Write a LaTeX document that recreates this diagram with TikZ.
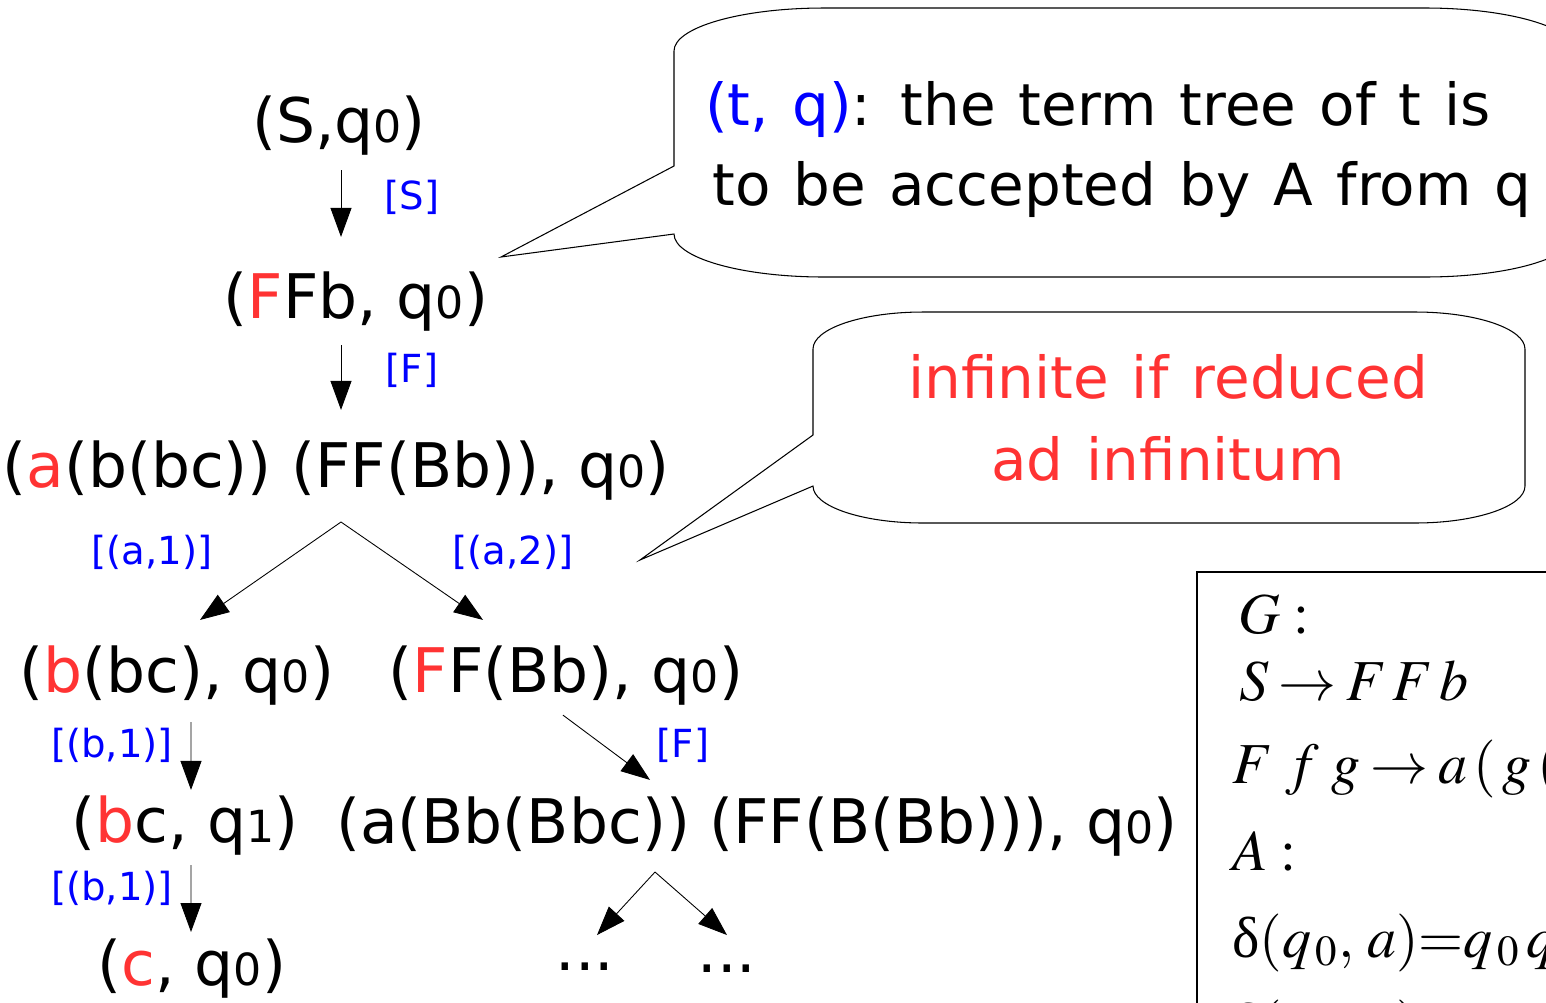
\documentclass[tikz,border=0pt]{standalone}
\usepackage{mathptmx}
\usepackage[no-math]{fontspec}
\setmainfont{DejaVu Sans}
\newfontfamily\greekup{Liberation Serif}
\usepackage{graphicx}
\usetikzlibrary{arrows.meta,positioning}

\definecolor{redex}{RGB}{255,51,51}
\definecolor{rulecol}{RGB}{0,0,255}
\newcommand{\rdx}[1]{\textcolor{redex}{#1}}
\newcommand{\st}[1]{q\scalebox{0.72}{#1}}
\newcommand{\dlt}{\mbox{\greekup δ}}
\newcommand{\widesp}{\spaceskip=0.4em plus 0.1em\relax}
\newcommand{\rto}{\mkern3mu{\rightarrow}\mkern3mu}

\begin{document}
\begin{tikzpicture}[
    x=0.02cm, y=0.02cm,
    term/.style={anchor=base, inner sep=0pt, font=\fontsize{35}{42}\selectfont},
    rname/.style={inner sep=0pt, text=rulecol, font=\fontsize{22}{26}\selectfont},
    note/.style={inner sep=0pt, font=\fontsize{33}{40}\selectfont\widesp},
    eqn/.style={anchor=base west, inner sep=0pt, font=\fontsize{33}{40}\selectfont},
    arr/.style={-{Triangle[length=0.58cm,width=0.42cm]}, line width=0.5pt},
    bubble/.style={draw, fill=white, line width=0.6pt}
  ]
  \useasboundingbox (0,0) rectangle (1546,-1002);
  \clip (0,0) rectangle (1546,-1002);

  % speech bubbles
  \draw[bubble] (674,-166) -- (674,-51)
    arc[start angle=180, end angle=90, x radius=3cm, y radius=0.86cm] -- (1425,-8)
    arc[start angle=90, end angle=0, x radius=3cm, y radius=0.86cm] -- (1575,-234)
    arc[start angle=0, end angle=-90, x radius=3cm, y radius=0.86cm] -- (824,-277)
    arc[start angle=270, end angle=180, x radius=3cm, y radius=0.86cm] -- (674,-234)
    -- (501,-257) -- cycle;
  \draw[bubble] (813,-435) -- (813,-349)
    arc[start angle=180, end angle=90, x radius=2.2cm, y radius=0.74cm] -- (1415,-312)
    arc[start angle=90, end angle=0, x radius=2.2cm, y radius=0.74cm] -- (1525,-486)
    arc[start angle=0, end angle=-90, x radius=2.2cm, y radius=0.74cm] -- (923,-523)
    arc[start angle=270, end angle=180, x radius=2.2cm, y radius=0.74cm] -- (813,-486)
    -- (640,-560) -- cycle;
  \node[note, anchor=base west] (tq1) at (705,-125) {\textcolor{rulecol}{(t, q)}: the term tree of t is};
  \node[note, anchor=base west] (tq2) at (712,-205) {to be accepted by A from q};
  \node[note, anchor=base, text=redex] (inf1) at (1168,-398) {infinite if reduced};
  \node[note, anchor=base, text=redex] (inf2) at (1168,-480) {ad infinitum};

  % the grammar and the automaton
  \draw[line width=0.6pt] (1197,-572) rectangle (1570,-1020);
  \node[eqn] (g0) at (1238,-633) {$G:$};
  \node[eqn] (g1) at (1239,-700) {$S\rto F\,F\,b$};
  \node[eqn] (g2) at (1232,-783) {$F\;f\;g\rto a\,(\,g\,($};
  \node[eqn] (a0) at (1232,-870) {$A:$};
  \node[eqn] (a1) at (1232,-957) {$\dlt(q_{\,0},\,a){=}q_{\,0}\,q_{\,0}$};
  \node[eqn] (a2) at (1232,-1043) {$\dlt(q_{\,0},\,b){=}q_{\,1}$};

  % reduction tree
  \node[term] (s0) at (339,-142) {(S,\st{0})};
  \node[term] (s1) at (356,-318) {(\rdx{F}Fb, \st{0})};
  \node[term] (s2) at (336,-487) {(\rdx{a}(b(bc)) (FF(Bb)), \st{0})};
  \node[term] (s3l) at (177,-692) {(\rdx{b}(bc), \st{0})};
  \node[term] (s3r) at (566,-692) {(\rdx{F}F(Bb), \st{0})};
  \node[term] (s4l) at (185,-842) {(\rdx{b}c, \st{1})};
  \node[term] (s4r) at (757,-843) {(a(Bb(Bbc)) (FF(B(Bb))), \st{0})};
  \node[term] (s5l) at (192,-985) {(\rdx{c}, \st{0})};
  \node[term] (d1) at (585,-970) {...};
  \node[term] (d2) at (727,-972) {...};

  \node[rname] (r0) at (412,-197) {[S]};
  \node[rname] (r1) at (412,-370) {[F]};
  \node[rname] (r2) at (152,-552) {[(a,1)]};
  \node[rname] (r3) at (513,-552) {[(a,2)]};
  \node[rname] (r4) at (112,-745) {[(b,1)]};
  \node[rname] (r5) at (112,-888) {[(b,1)]};
  \node[rname] (r6) at (683,-745) {[F]};

  \coordinate (fk1) at (341,-522);
  \coordinate (fk2) at (655,-872);
  \draw[arr, shorten <=0.3cm, shorten >=0.68cm] ([xshift=0.04cm]s0.south) -- ([xshift=0.04cm]s0.south |- s1.north);
  \draw[arr, shorten <=0.28cm, shorten >=0.6cm] ([xshift=0.04cm]s1.south -| s0.south) -- ([xshift=0.04cm]s2.north -| s0.south);
  \draw[arr] (fk1) -- ([xshift=0.46cm, yshift=0.5cm]s3l.north);
  \draw[arr] (fk1) -- ([xshift=-1.66cm, yshift=0.5cm]s3r.north);
  \draw[arr, shorten <=0.34cm, shorten >=0.1cm] ([xshift=0.28cm]s3l.south) -- ([xshift=0.12cm]s4l.north);
  \draw[arr, shorten <=0.2cm, shorten >=0.12cm] ([xshift=0.12cm]s4l.south) -- ([xshift=-0.02cm]s5l.north);
  \draw[arr] ([xshift=-0.06cm, yshift=-0.2cm]s3r.south) -- ([xshift=-2.14cm, yshift=0.32cm]s4r.north);
  \draw[arr] (fk2) -- ([xshift=0.24cm, yshift=0.54cm]d1.north);
  \draw[arr] (fk2) -- ([yshift=0.58cm]d2.north);
\end{tikzpicture}
\end{document}
